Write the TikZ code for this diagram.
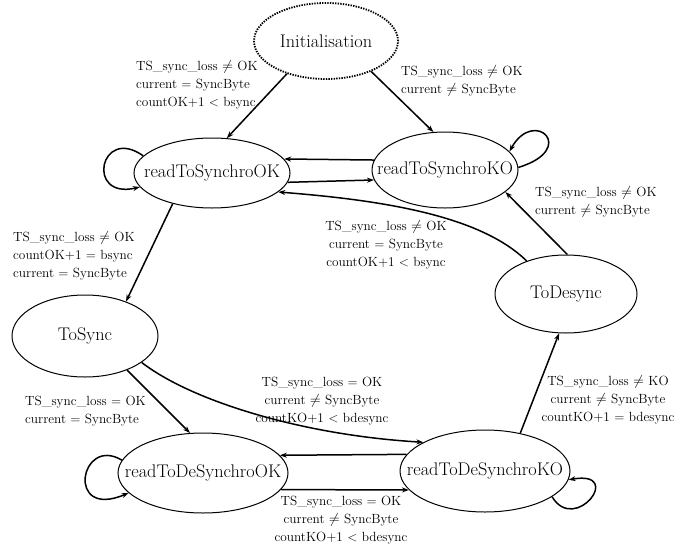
\documentclass[tikz,border=0pt]{standalone}
\usetikzlibrary{arrows.meta,shapes.geometric}
% state names are set in a zero-width box so the ellipse keeps its given size
\newcommand\zw[1]{\makebox[0pt]{#1}}
\begin{document}
\begin{tikzpicture}[x=1pt,y=-1pt,
  state/.style={ellipse,draw,line width=1pt,inner sep=0pt,font=\fontsize{18.3}{20}\selectfont},
  initstate/.style={state,line width=1.8pt,dash pattern=on 1.4pt off 1.2pt},
  trans/.style={line width=1.5pt,-{Stealth[length=7pt,width=5pt]}},
  cond/.style={font=\fontsize{13.3}{18}\selectfont,inner sep=0pt}
]
\useasboundingbox (0,0) rectangle (677,549);

% states
\node[initstate,minimum width=144pt,minimum height=76pt] (init) at (326,41) {\zw{Initialisation}};
\node[state,minimum width=156pt,minimum height=70pt] (rtsok) at (212,173) {\zw{readToSynchroOK}};
\node[state,minimum width=146pt,minimum height=76pt] (rtsko) at (445,170) {\zw{readToSynchroKO}};
\node[state,minimum width=146pt,minimum height=82pt] (tosync) at (85,336) {\zw{ToSync}};
\node[state,minimum width=142pt,minimum height=78pt] (todesync) at (566,294) {\zw{ToDesync}};
\node[state,minimum width=170pt,minimum height=80pt] (rtdsok) at (203,473) {\zw{readToDeSynchroOK}};
\node[state,minimum width=170pt,minimum height=82pt] (rtdsko) at (485,471) {\zw{readToDeSynchroKO}};

% transitions
\draw[trans] (init.220) -- (rtsok.67);
\draw[trans] (init.-34) -- (rtsko.107);
\draw[trans] (rtsko.2) .. controls (579,149) and (534,107) .. (rtsko.16);
\draw[trans] (rtsok.166) .. controls (100,125) and (85,200) .. (rtsok.191);
\draw[trans] (rtsko.172) -- (rtsok.11);
\draw[trans] (rtsok.-7) -- (rtsko.188);
\draw[trans] (todesync.140) .. controls (480,215) and (380,200) .. (rtsok.-16);
\draw[trans] (todesync.88) -- (rtsko.-20);
\draw[trans] (rtsok.218) -- (tosync.40);
\draw[trans] (tosync.-39) -- (rtdsok.108);
\draw[trans] (tosync.-25) .. controls (190,400) and (300,435) .. (rtdsko.155);
\draw[trans] (rtdsko.168) -- (rtdsok.13);
\draw[trans] (rtdsok.-12) -- (rtdsko.194);
\draw[trans] (rtdsko.47) -- (todesync.260);
\draw[trans] (rtdsko.-21) .. controls (575,535) and (625,470) .. (rtdsko.-6);
\draw[trans] (rtdsok.171) .. controls (80,435) and (65,520) .. (rtdsok.195);

% guard conditions
\node[cond,align=left,anchor=west] (c1) at (136,85)
  {TS\_sync\_loss $\neq$ OK\\current = SyncByte\\countOK+1 < bsync};
\node[cond,align=left,anchor=west] (c2) at (401,81)
  {TS\_sync\_loss $\neq$ OK\\current $\neq$ SyncByte};
\node[cond,align=left,anchor=west] (c3) at (13,256)
  {TS\_sync\_loss $\neq$ OK\\countOK+1 = bsync\\current = SyncByte};
\node[cond,align=left,anchor=west] (c4) at (535,202)
  {TS\_sync\_loss $\neq$ OK\\current $\neq$ SyncByte};
\node[cond,align=center] (c5) at (386,245)
  {TS\_sync\_loss $\neq$ OK\\current = SyncByte\\countOK+1 < bsync};
\node[cond,align=left,anchor=west] (c6) at (25,411)
  {TS\_sync\_loss = OK\\current = SyncByte};
\node[cond,align=center] (c7) at (322,401)
  {TS\_sync\_loss = OK\\current $\neq$ SyncByte\\countKO+1 < bdesync};
\node[cond,align=center] (c8) at (608,400)
  {TS\_sync\_loss $\neq$ KO\\current $\neq$ SyncByte\\countKO+1 = bdesync};
\node[cond,align=center] (c9) at (341,520)
  {TS\_sync\_loss = OK\\current $\neq$ SyncByte\\countKO+1 < bdesync};
\end{tikzpicture}
\end{document}
